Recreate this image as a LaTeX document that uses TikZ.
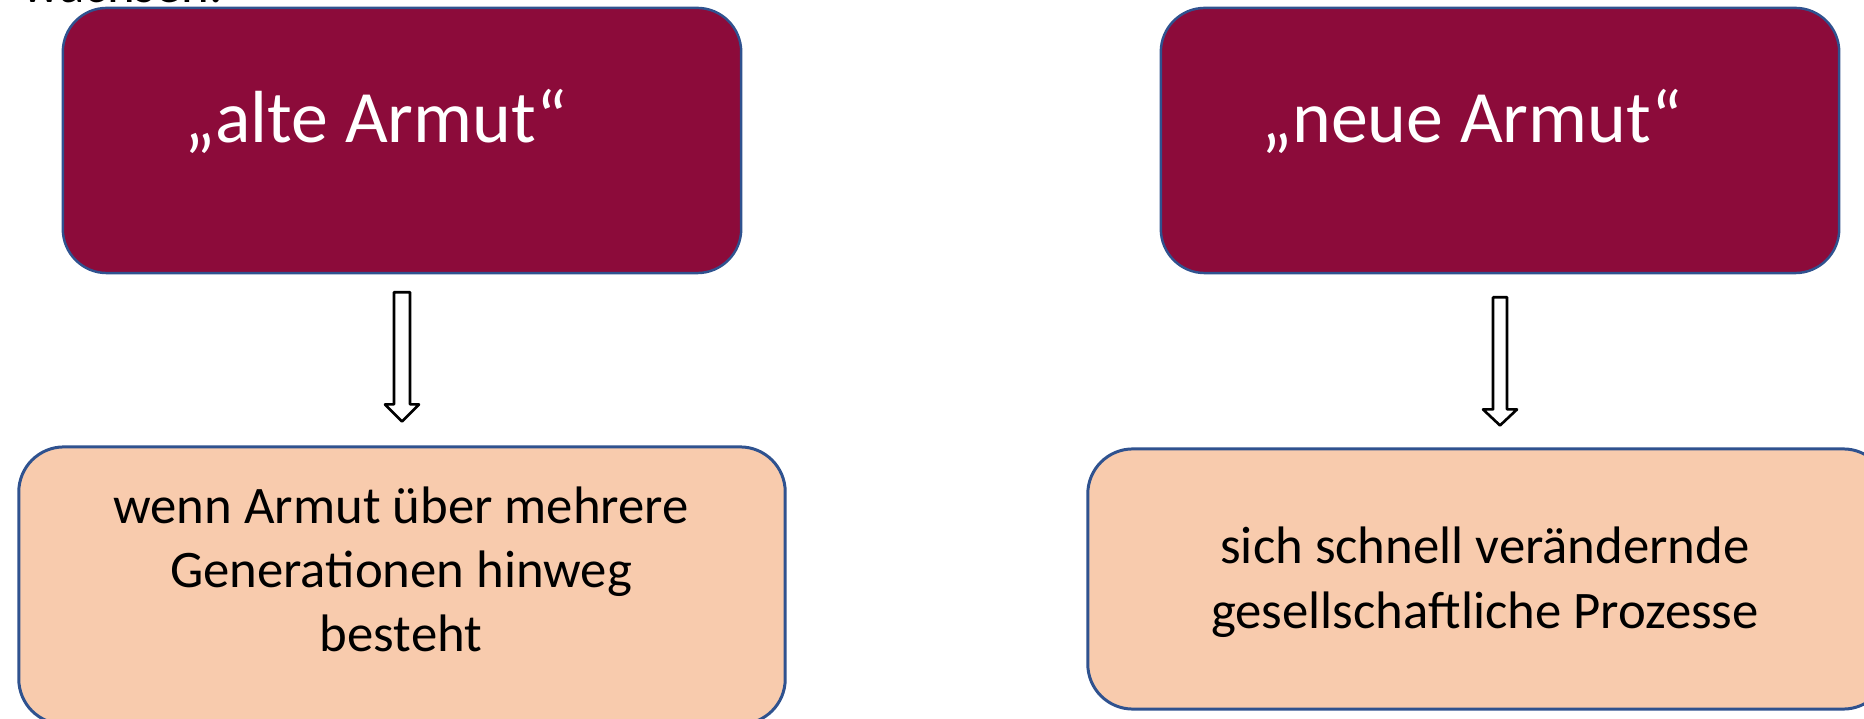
\documentclass[tikz,border=0pt]{standalone}
\usepackage{fontspec}
\setmainfont{Carlito}
\usetikzlibrary{calc}
\definecolor{weinrot}{RGB}{140,11,58}
\definecolor{rahmenblau}{RGB}{47,82,143}
\definecolor{pfirsich}{RGB}{248,203,173}
\begin{document}
\begin{tikzpicture}[x=0.01cm, y=-0.01cm, line join=round,
	kopf/.style={draw=rahmenblau, line width=0.7pt, fill=weinrot, rounded corners=0.44cm, inner sep=0pt, minimum width=6.78cm, minimum height=2.65cm},
	fuss/.style={draw=rahmenblau, line width=0.85pt, fill=pfirsich, rounded corners=0.45cm, inner sep=0pt},
	titel/.style={anchor=base, text=white, font=\fontsize{21}{25}\selectfont},
	erklaerung/.style={anchor=base, align=center, font=\fontsize{15}{18.2}\selectfont},
	pfeil/.style={draw=black, line width=0.75pt, fill=white}]
	%%%%%%%%%%%%%%%%%%%%%%%%%%%%%%%%%
	\useasboundingbox (0,0) rectangle (1864,719);
	\clip (0,0) rectangle (1864,719);
	\node[anchor=base west, font=\fontsize{15}{18}\selectfont] (oben) at (10,3) {wachsen.};
	%%%%%%%%%%%%%%%%%%%%%%%%%%%%%%%%%
	\node[kopf] (alt) at (402,140.5) {};
	\node[kopf] (neu) at (1500,140.5) {};
	\node[fuss, minimum width=7.66cm, minimum height=2.77cm] (altfuss) at (402,585.5) {};
	\node[fuss, minimum width=8cm, minimum height=2.6cm] (neufuss) at (1488,579) {};
	%%%%%%%%%%%%%%%%%%%%%%%%%%%%%%%%%
	\node[titel] (altTitel) at (376,143) {„alte Armut“};
	\node[titel] (neuTitel) at (1472,143) {„neue Armut“};
	% base = letzte Zeile
	\node[erklaerung] (altText) at (401,652) {wenn Armut über mehrere\\Generationen hinweg\\besteht};
	\node[erklaerung] (neuText) at (1485,628) {sich schnell verändernde\\gesellschaftliche Prozesse};
	%%%%%%%%%%%%%%%%%%%%%%%%%%%%%%%%%
	\coordinate (A1) at ($(alt.south)+(0,18)$);
	\coordinate (A2) at ($(A1|-altfuss.north)+(0,-24)$);
	\coordinate (N1) at ($(neu.south)+(0,23)$);
	\coordinate (N2) at ($(N1|-neufuss.north)+(0,-22)$);
	\draw[pfeil] ($(A1)+(-8,0)$) -- ($(A1)+(8,0)$) -- ($(A2)+(8,-17)$) -- ($(A2)+(17,-17)$) -- (A2)
		-- ($(A2)+(-17,-17)$) -- ($(A2)+(-8,-17)$) -- cycle;
	\draw[pfeil] ($(N1)+(-7,0)$) -- ($(N1)+(7,0)$) -- ($(N2)+(7,-16)$) -- ($(N2)+(17,-16)$) -- (N2)
		-- ($(N2)+(-17,-16)$) -- ($(N2)+(-7,-16)$) -- cycle;
	%%%%%%%%%%%%%%%%%%%%%%%%%%%%%%%%%
\end{tikzpicture}
\end{document}
